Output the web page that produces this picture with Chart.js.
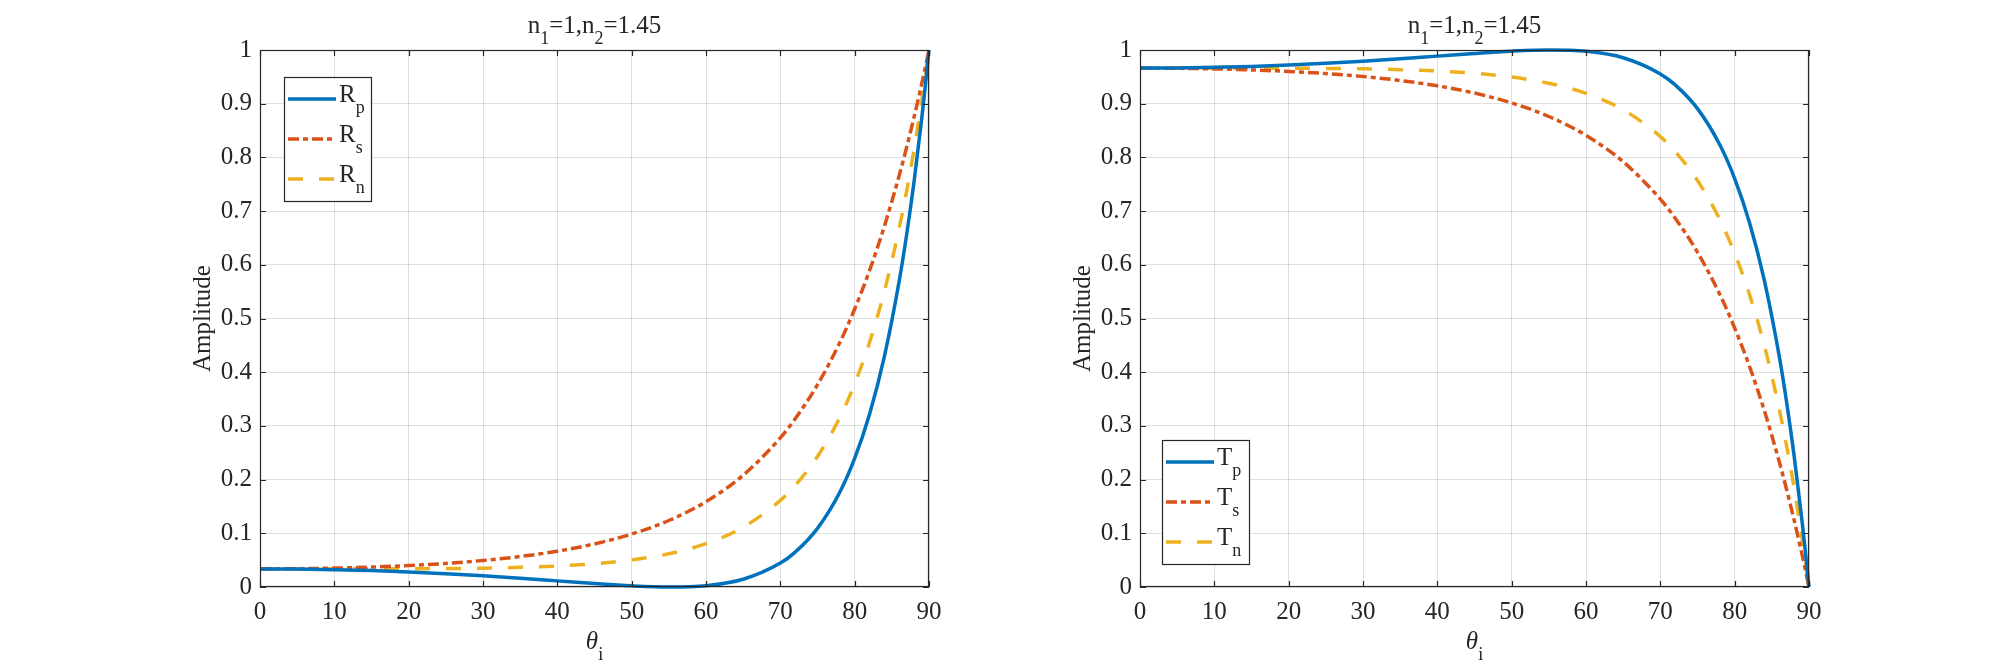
<!DOCTYPE html>
<html><head><meta charset="utf-8">
<script src="https://cdn.jsdelivr.net/npm/chart.js@4.4.1/dist/chart.umd.min.js"></script>
<style>
html,body{margin:0;padding:0;background:#fff;width:2000px;height:667px;overflow:hidden;}
canvas{position:absolute;top:0;}
#c1{left:0px}
#c2{left:880px}
</style></head><body>
<canvas id="c1" width="1000" height="667"></canvas>
<canvas id="c2" width="1000" height="667"></canvas>
<script>
// incidence angles (degrees)
const angles = [0,5,10,15,20,25,30,35,40,45,50,55,60,65,70,72,75,78,80,82,84,86,87,88,89,89.5,90];
// reflection (left panel)
const Rp = [0.0337,0.0334,0.0323,0.0305,0.0280,0.0248,0.0209,0.0164,0.0114,0.0064,0.0022,0.0000,0.0025,0.0145,0.0446,0.0650,0.1092,0.1765,0.2393,0.3216,0.4294,0.5706,0.6569,0.7559,0.8695,0.9325,1];
const Rs = [0.0337,0.0341,0.0352,0.0371,0.0399,0.0439,0.0494,0.0568,0.0667,0.0802,0.0986,0.1238,0.1589,0.2082,0.2778,0.3132,0.3767,0.4552,0.5176,0.5894,0.6720,0.7668,0.8193,0.8755,0.9357,0.9674,1];
const Rn = [0.0337,0.0337,0.0338,0.0338,0.0340,0.0344,0.0351,0.0366,0.0391,0.0433,0.0504,0.0619,0.0807,0.1113,0.1612,0.1891,0.2430,0.3158,0.3784,0.4555,0.5507,0.6687,0.7381,0.8157,0.9026,0.9499,1];
// transmission (right panel)
const Tp = [0.9663,0.9666,0.9677,0.9695,0.9720,0.9752,0.9791,0.9836,0.9886,0.9936,0.9978,1.0000,0.9975,0.9855,0.9554,0.9350,0.8908,0.8235,0.7607,0.6784,0.5706,0.4294,0.3431,0.2441,0.1305,0.0675,0];
const Ts = [0.9663,0.9659,0.9648,0.9629,0.9601,0.9561,0.9506,0.9432,0.9333,0.9198,0.9014,0.8762,0.8411,0.7918,0.7222,0.6868,0.6233,0.5448,0.4824,0.4106,0.3280,0.2332,0.1807,0.1245,0.0643,0.0326,0];
const Tn = [0.9663,0.9663,0.9662,0.9662,0.9660,0.9656,0.9649,0.9634,0.9609,0.9567,0.9496,0.9381,0.9193,0.8887,0.8388,0.8109,0.7570,0.6842,0.6216,0.5445,0.4493,0.3313,0.2619,0.1843,0.0974,0.0501,0];
// ticks
const xTicks = [0,10,20,30,40,50,60,70,80,90];
const xTickLabels = ['0','10','20','30','40','50','60','70','80','90'];
const yTicks = [0,0.1,0.2,0.3,0.4,0.5,0.6,0.7,0.8,0.9,1];
const yTickLabels = ['0','0.1','0.2','0.3','0.4','0.5','0.6','0.7','0.8','0.9','1'];
// texts
const titleSegs = [{t:'n'},{t:'1',sub:true},{t:'=1,n'},{t:'2',sub:true},{t:'=1.45'}];
const xLabelSegs = [{t:'\u03b8',it:true},{t:'i',sub:true}];
const yLabel = 'Amplitude';
const leftLegend = [['R','p'],['R','s'],['R','n']];
const rightLegend = [['T','p'],['T','s'],['T','n']];

const COLORS = ['#0072BD','#D95319','#EDB120'];
const DASHES = [[],[11,4,5,4],[15,16]];
const INK = '#262626';
const FONT = '"Liberation Serif", "Times New Roman", serif';
const FS = 25, SUBFS = 18, SUBOFF = 11;
const LW = 3.5;

function richWidth(ctx, segs, fs, sfs){
  let w=0;
  segs.forEach(s=>{ctx.font=(s.it?'italic ':'')+(s.sub?sfs:fs)+'px '+FONT; w+=ctx.measureText(s.t).width;});
  return w;
}
function drawRich(ctx, segs, x, y, fs, sfs, off, align){
  const w = richWidth(ctx, segs, fs, sfs);
  let cx = align==='center' ? x - w/2 : x;
  ctx.textBaseline='alphabetic'; ctx.textAlign='left'; ctx.fillStyle=INK;
  segs.forEach(s=>{
    ctx.font=(s.it?'italic ':'')+(s.sub?sfs:fs)+'px '+FONT;
    ctx.fillText(s.t, cx, s.sub? y+off : y);
    cx += ctx.measureText(s.t).width;
  });
}

const matlabPlugin = {
  id:'matlab',
  afterDatasetsDraw(chart, args, opts){
    const ctx=chart.ctx, a=chart.chartArea, xs=chart.scales.x, ys=chart.scales.y;
    ctx.save();
    ctx.strokeStyle=INK; ctx.lineWidth=1.2; ctx.setLineDash([]);
    ctx.strokeRect(a.left+0.5, a.top+0.5, a.right-a.left-1, a.bottom-a.top-1);
    const TL=6;
    ctx.beginPath();
    xTicks.forEach(v=>{const p=Math.round(xs.getPixelForValue(v))+0.5;
      ctx.moveTo(p,a.bottom); ctx.lineTo(p,a.bottom-TL);
      ctx.moveTo(p,a.top); ctx.lineTo(p,a.top+TL);});
    yTicks.forEach(v=>{const p=Math.round(ys.getPixelForValue(v))+0.5;
      ctx.moveTo(a.left,p); ctx.lineTo(a.left+TL,p);
      ctx.moveTo(a.right,p); ctx.lineTo(a.right-TL,p);});
    ctx.stroke();
    // title
    const cx=(a.left+a.right)/2;
    drawRich(ctx, titleSegs, cx, 33, FS, SUBFS, SUBOFF, 'center');
    // x label
    drawRich(ctx, xLabelSegs, cx, 649, FS, SUBFS, SUBOFF, 'center');
    // y label
    ctx.save();
    ctx.translate(a.left-57, (a.top+a.bottom)/2);
    ctx.rotate(-Math.PI/2);
    ctx.font=FS+'px '+FONT; ctx.textAlign='center'; ctx.textBaseline='middle'; ctx.fillStyle=INK;
    ctx.fillText(yLabel,0,0);
    ctx.restore();
    // legend
    const L=opts.legend;
    const lx=a.left+L.dx, ly=a.top+L.dy, lw=87, lh=124;
    ctx.fillStyle='#fff'; ctx.fillRect(lx,ly,lw,lh);
    ctx.strokeStyle=INK; ctx.lineWidth=1.2; ctx.strokeRect(Math.round(lx)+0.5,Math.round(ly)+0.5,lw,lh);
    chart.data.datasets.forEach((ds,i)=>{
      const yy=ly+22+i*40;
      ctx.strokeStyle=ds.borderColor; ctx.lineWidth=ds.borderWidth; ctx.lineCap='butt';
      ctx.setLineDash(ds.borderDash||[]);
      ctx.beginPath(); ctx.moveTo(lx+4,yy); ctx.lineTo(lx+52,yy); ctx.stroke();
      ctx.setLineDash([]);
      drawRich(ctx, [{t:L.labels[i][0]},{t:L.labels[i][1],sub:true}], lx+55, yy+3, FS, SUBFS, SUBOFF, 'left');
    });
    ctx.restore();
  }
};

function makeChart(id, series, legendLabels, legendPos){
  return new Chart(document.getElementById(id), {
    type:'line',
    data:{datasets: series.map((s,i)=>({
      label: legendLabels[i].join(''),
      data: angles.map((a,j)=>({x:a,y:s[j]})),
      borderColor:COLORS[i], borderWidth:LW, borderDash:DASHES[i], borderCapStyle:'butt',
      pointRadius:0, fill:false, cubicInterpolationMode:'monotone', clip:4
    }))},
    options:{
      responsive:false, animation:false, devicePixelRatio:1,
      layout:{padding:{left:0,top:50,right:71,bottom:0}},
      plugins:{legend:{display:false}, tooltip:{enabled:false}, title:{display:false},
        matlab:{legend:{dx:legendPos[0],dy:legendPos[1],labels:legendLabels}}},
      scales:{
        x:{type:'linear', min:0, max:90,
          afterBuildTicks:s=>{s.ticks=xTicks.map(v=>({value:v}));},
          afterFit:s=>{s.height=80;},
          ticks:{autoSkip:false, maxRotation:0, padding:10, color:INK, font:{family:FONT,size:FS},
            callback:(v)=>xTickLabels[xTicks.indexOf(v)]},
          grid:{color:'rgba(38,38,38,0.15)', lineWidth:1, drawTicks:false},
          border:{display:false}},
        y:{type:'linear', min:0, max:1,
          afterBuildTicks:s=>{s.ticks=yTicks.map(v=>({value:v}));},
          afterFit:s=>{s.width=260;},
          ticks:{autoSkip:false, padding:8, color:INK, font:{family:FONT,size:FS},
            callback:(v)=>{const k=yTicks.findIndex(t=>Math.abs(t-v)<1e-9);return yTickLabels[k];}},
          grid:{color:'rgba(38,38,38,0.15)', lineWidth:1, drawTicks:false},
          border:{display:false}}
      }
    },
    plugins:[matlabPlugin]
  });
}
makeChart('c1',[Rp,Rs,Rn],leftLegend,[24,27]);
makeChart('c2',[Tp,Ts,Tn],rightLegend,[22,390]);
</script>
</body></html>
